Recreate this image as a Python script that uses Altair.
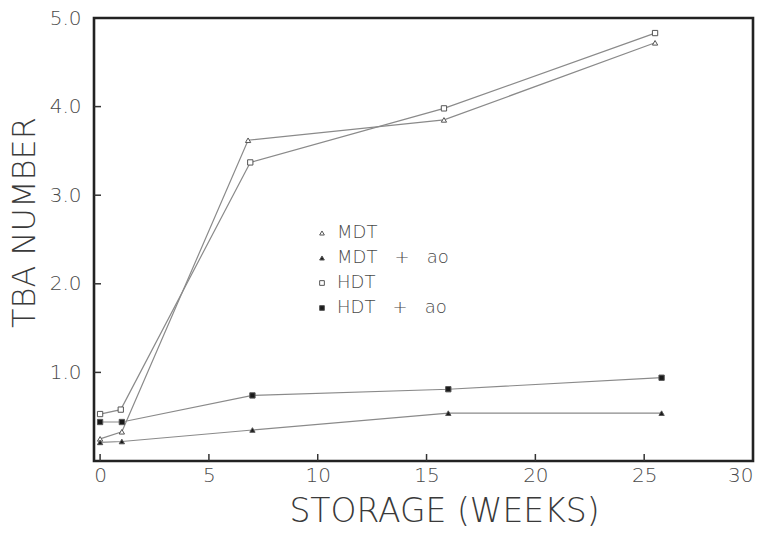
import altair as alt
import pandas as pd

series_names = ["MDT", "MDT\u00a0\u00a0\u00a0+\u00a0\u00a0\u00a0ao", "HDT", "HDT\u00a0\u00a0\u00a0+\u00a0\u00a0\u00a0ao"]
weeks_mdt = [0, 1, 6.8, 15.8, 25.5]
tba_mdt = [0.25, 0.33, 3.62, 3.85, 4.72]
weeks_mdt_ao = [0, 1, 7, 16, 25.8]
tba_mdt_ao = [0.21, 0.22, 0.35, 0.54, 0.54]
weeks_hdt = [0, 0.95, 6.9, 15.8, 25.5]
tba_hdt = [0.53, 0.58, 3.37, 3.98, 4.83]
weeks_hdt_ao = [0, 1, 7, 16, 25.8]
tba_hdt_ao = [0.44, 0.44, 0.74, 0.81, 0.94]

x_tick_values = [0, 5, 10, 15, 20, 25, 30]
y_tick_values = [1, 2, 3, 4, 5]
x_inner_ticks = [0, 5, 10, 15, 20, 25]
y_inner_ticks = [1, 2, 3, 4]

rows = []
for name, ws, vs in zip(series_names,
                        [weeks_mdt, weeks_mdt_ao, weeks_hdt, weeks_hdt_ao],
                        [tba_mdt, tba_mdt_ao, tba_hdt, tba_hdt_ao]):
    for w, v in zip(ws, vs):
        rows.append({"series": name, "week": w, "tba": v})
df = pd.DataFrame(rows)

W, H = 659, 443
FONT = "DejaVu Sans"
GRAY = "#4a4a4a"
LIGHT = 200

xscale = alt.Scale(domain=[-0.28, 30], nice=False, zero=False)
yscale = alt.Scale(domain=[0, 5], nice=False, zero=False)

xaxis = alt.Axis(values=x_tick_values, format="d", domain=False, ticks=False, grid=False,
                 labelFont=FONT, labelFontSize=20, labelColor=GRAY, labelFontWeight=LIGHT,
                 labelPadding=4,
                 title="STORAGE (WEEKS)", titleFont=FONT, titleFontSize=33,
                 titleFontWeight=LIGHT, titleColor="#3a3a3a", titlePadding=10, titleX=350)
yaxis = alt.Axis(values=y_tick_values, format=".1f", domain=False, ticks=False, grid=False,
                 labelFont=FONT, labelFontSize=20, labelColor=GRAY, labelFontWeight=LIGHT,
                 labelPadding=13,
                 title="TBA NUMBER", titleFont=FONT, titleFontSize=32,
                 titleFontWeight=LIGHT, titleColor="#3a3a3a", titlePadding=8, titleY=204)

base = alt.Chart(df)

lines = base.mark_line(color="#8a8a8a", strokeWidth=1.2).encode(
    x=alt.X("week:Q", scale=xscale, axis=xaxis),
    y=alt.Y("tba:Q", scale=yscale, axis=yaxis),
    detail="series:N",
)

points = base.mark_point(size=28, stroke="#555", strokeWidth=1, opacity=1, filled=False).encode(
    x=alt.X("week:Q", scale=xscale),
    y=alt.Y("tba:Q", scale=yscale),
    shape=alt.Shape("series:N", title=None,
                    scale=alt.Scale(domain=series_names,
                                    range=["triangle-up", "triangle-up", "square", "square"])),
    fill=alt.Fill("series:N", title=None,
                  scale=alt.Scale(domain=series_names,
                                  range=["white", "#1a1a1a", "white", "#1a1a1a"]),
                  legend=alt.Legend(orient="none", legendX=219, legendY=206,
                                    labelFont=FONT, labelFontSize=18, labelColor=GRAY,
                                    labelFontWeight=LIGHT,
                                    symbolSize=22, symbolStrokeColor="#555",
                                    symbolStrokeWidth=1, rowPadding=7, labelOffset=6,
                                    padding=0)),
)

xt = alt.Chart(pd.DataFrame({"v": x_inner_ticks})).mark_rule(color="#333", strokeWidth=1.5).encode(
    x=alt.X("v:Q", scale=xscale), y=alt.value(H), y2=alt.value(H - 7))
yt = alt.Chart(pd.DataFrame({"v": y_inner_ticks})).mark_rule(color="#333", strokeWidth=1.5).encode(
    y=alt.Y("v:Q", scale=yscale), x=alt.value(0), x2=alt.value(7))

chart = alt.layer(lines, points, xt, yt).properties(
    width=W, height=H,
    background="white",
    autosize=alt.AutoSizeParams(type="none"),
    padding={"left": 86, "top": 10, "right": 3, "bottom": 73},
).configure_view(stroke="#222", strokeWidth=2.6)

chart.save("out.html", embed_options={"renderer": "svg", "actions": False})
